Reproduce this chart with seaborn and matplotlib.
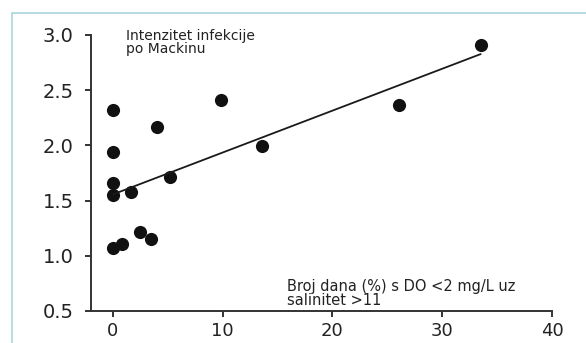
"""Scatter with regression line: infection intensity vs. hypoxic days."""

import matplotlib

matplotlib.use("Agg")
import matplotlib.pyplot as plt
import numpy as np
import pandas as pd
import seaborn as sns
from matplotlib.patches import Rectangle

# values
days_pct = [0, 0, 0, 0, 0, 0.8, 1.6, 2.5, 3.5, 4.0, 5.2, 9.8, 13.6, 26.1, 33.5]
intensity = [2.32, 1.94, 1.66, 1.55, 1.07, 1.11, 1.58, 1.22, 1.15, 2.17, 1.71, 2.41, 1.99, 2.37, 2.91]
x_ticks = [0, 10, 20, 30, 40]
y_ticks = [0.5, 1.0, 1.5, 2.0, 2.5, 3.0]

df = pd.DataFrame({"days": days_pct, "intensity": intensity})

sns.set_theme(style="ticks")
plt.rcParams["font.family"] = ["DejaVu Sans"]

fig = plt.figure(figsize=(5.86, 3.43), dpi=100)
ax = fig.add_axes([0.1553, 0.0933, 0.7867, 0.8047])

# light frame round the figure, as in the source scan
fig.patches.append(
    Rectangle((12 / 586, -0.1), 1.2, (343 - 13) / 343 + 0.1, transform=fig.transFigure,
              fill=False, edgecolor="#a9d5de", linewidth=1.2, zorder=0)
)

sns.regplot(
    data=df, x="days", y="intensity", ax=ax, ci=None, truncate=True,
    scatter_kws={"s": 90, "color": "#111111", "linewidths": 0, "alpha": 1},
    line_kws={"color": "#1a1a1a", "linewidth": 1.3},
)

ax.set_xlim(-2, 40)
ax.set_ylim(0.5, 3.0)
ax.set_xticks(x_ticks)
ax.set_yticks(y_ticks)
ax.set_yticklabels([f"{v:.1f}" for v in y_ticks])
ax.set_xlabel("")
ax.set_ylabel("")
sns.despine(ax=ax)
for side in ["left", "bottom"]:
    ax.spines[side].set_color("#333333")
    ax.spines[side].set_linewidth(1.4)
ax.tick_params(axis="both", colors="#333333", labelcolor="#222222", length=4.5, width=1.4)
ax.tick_params(axis="y", labelsize=14, pad=8)
ax.tick_params(axis="x", labelsize=13, pad=3.5)
ax.patch.set_alpha(0)

ax.text(1.2, 3.05, "Intenzitet infekcije\npo Mackinu", fontsize=10, color="#222222",
        va="top", ha="left", linespacing=0.9)
ax.text(15.9, 0.79, "Broj dana (%) s DO <2 mg/L uz\nsalinitet >11", fontsize=10.5,
        color="#222222", va="top", ha="left", linespacing=0.9)

fig.savefig("out.png", dpi=100)
plt.close(fig)
